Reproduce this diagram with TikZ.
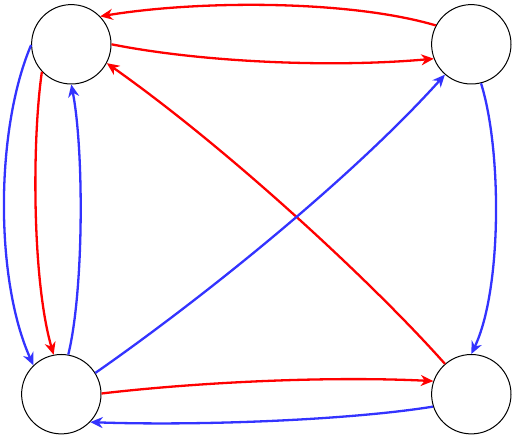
\documentclass[tikz,border=0pt]{standalone}
\usetikzlibrary{arrows.meta}
\definecolor{myred}{HTML}{FF0000}
\definecolor{myblue}{HTML}{3333FF}
\begin{document}
\begin{tikzpicture}[x=1pt,y=-1pt,
  vert/.style={circle,draw=black,line width=1pt,minimum size=79.4pt,inner sep=0pt},
  redarr/.style={draw=myred,line width=2.3pt,-{Stealth[length=12.5pt,width=11pt,inset=4pt]}},
  bluearr/.style={draw=myblue,line width=2.3pt,-{Stealth[length=12.5pt,width=11pt,inset=4pt]}}]
\useasboundingbox (0,0) rectangle (512,435);
\node[vert] (tl) at (71.3,44.3) {};
\node[vert] (tr) at (471.3,44.3) {};
\node[vert] (bl) at (61.3,394.2) {};
\node[vert] (br) at (471.3,394.2) {};
% top pair
\draw[redarr] (tr.152.7) .. controls (350,0) and (200,0) .. (tl.44);
\draw[redarr] (tl.0) .. controls (200,62) and (330,68) .. (tr.201);
% diagonals
\draw[redarr] (br.131) .. controls (375,285) and (230,150) .. (tl.-28);
\draw[bluearr] (bl.32.5) .. controls (200,300) and (350,180) .. (tr.229);
% left side
\draw[bluearr] (tl.181) .. controls (-5,130) and (-5,280) .. (bl.134);
\draw[redarr] (tl.223) .. controls (32,140) and (32,280) .. (bl.101);
\draw[bluearr] (bl.80) .. controls (84,290) and (84,150) .. (tl.270);
% right side
\draw[bluearr] (tr.284.5) .. controls (502,150) and (502,290) .. (br.90);
% bottom pair
\draw[redarr] (bl.1) .. controls (200,382) and (330,376) .. (br.161.6);
\draw[bluearr] (br.198) .. controls (350,420) and (200,426) .. (bl.316);
\end{tikzpicture}
\end{document}
